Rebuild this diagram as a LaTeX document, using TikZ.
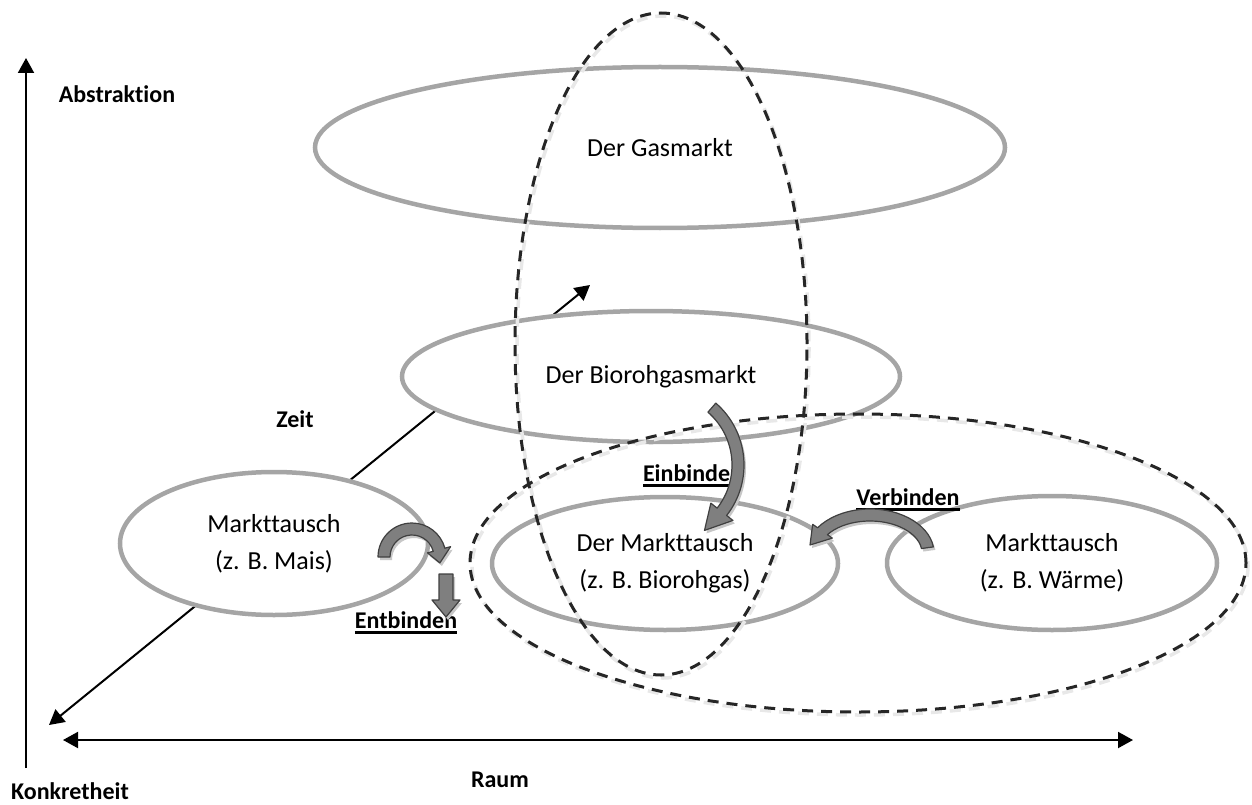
\documentclass[tikz,border=0pt]{standalone}
\usepackage{fontspec}
\setmainfont{Carlito}[Ligatures=NoCommon]
\usetikzlibrary{arrows.meta,shapes.geometric}
\definecolor{ellgray}{HTML}{A5A5A5}
\definecolor{dashcol}{HTML}{262626}
\definecolor{arrgray}{HTML}{7F7F7F}
\definecolor{arroutline}{HTML}{404040}
\newlength\ulw
\newcommand\myul[1]{\settowidth\ulw{#1}\rlap{\rule[-6pt]{\ulw}{3.2pt}}#1}
\tikzset{
  mkt/.style={ellipse, draw=ellgray, line width=4.5pt, fill=white, inner sep=0pt,
    align=center, font=\fontsize{26}{37}\selectfont},
  grp/.style={ellipse, draw=dashcol, line width=3pt, dash pattern=on 11pt off 8pt, inner sep=0pt},
  grpshadow/.style={draw=black!9, line width=3.5pt, dash pattern=on 11pt off 8pt},
  axisline/.style={line width=2pt, draw=black, >={Triangle[length=15pt,width=16pt]}},
  lbl/.style={font=\fontsize{24}{28}\selectfont\bfseries, inner sep=0pt, anchor=base},
  barrow/.style={fill=arrgray, draw=arroutline, line width=1.2pt, line join=round},
  bshadow/.style={fill=black!22}
}
\begin{document}
\begin{tikzpicture}[x=1pt,y=-1pt]
\useasboundingbox (0,0) rectangle (1252,805);
% axes
\coordinate (vtop) at (26,58);
\coordinate (vbot) at (26,768);
\coordinate (hleft) at (63,740);
\coordinate (hright) at (1133,740);
\coordinate (dlow) at (49,725);
\coordinate (dhigh) at (590,285);
\draw[axisline, ->] (vbot) -- (vtop);
\draw[axisline, <->] (hleft) -- (hright);
\draw[axisline, <->] (dhigh) -- (dlow);
% market ellipses
\node[mkt, minimum width=690pt, minimum height=161pt] (gas) at (660,147.5) {Der Gasmarkt};
\node[mkt, minimum width=498pt, minimum height=131pt] (biomkt) at (651,376.5) {Der Biorohgasmarkt};
\node[mkt, minimum width=308pt, minimum height=143pt] (mais) at (274,543.5) {Markttausch\\(z. B. Mais)};
\node[mkt, minimum width=346pt, minimum height=133pt] (bio) at (665,563.5) {Der Markttausch\\(z. B. Biorohgas)};
\node[mkt, minimum width=330pt, minimum height=134pt] (waerme) at (1052,563) {Markttausch\\(z. B. Wärme)};
% dashed groups
\draw[grpshadow] (663,347) ellipse[x radius=146, y radius=331];
\draw[grpshadow] (860,566) ellipse[x radius=388, y radius=149];
\node[grp, minimum width=292pt, minimum height=662pt] (vgroup) at (661,344) {};
\node[grp, minimum width=776pt, minimum height=298pt] (hgroup) at (858,563) {};
% labels
\node[lbl] (abs) at (117,103) {Abstraktion};
\node[lbl] (konk) at (70,799) {Konkretheit};
\node[lbl] (raum) at (500,787) {Raum};
\node[lbl] (zeit) at (295,427) {Zeit};
\node[lbl] (einb) at (693,481) {\myul{Einbinden}};
\node[lbl] (verb) at (908,505) {\myul{Verbinden}};
\node[lbl] (entb) at (406,628) {\myul{Entbinden}};
% block arrows
\begin{scope}[shift={(414,560)}]
\path[bshadow] (180:34) arc[start angle=180, end angle=345, radius=34] -- (345:40) -- (12:28.5) -- (345:16) -- (345:22) arc[start angle=345, end angle=180, radius=22] -- cycle;
\end{scope}
\begin{scope}[shift={(412,557)}]
\path[barrow] (180:34) arc[start angle=180, end angle=345, radius=34] -- (345:40) -- (12:28.5) -- (345:16) -- (345:22) arc[start angle=345, end angle=180, radius=22] -- cycle;
\end{scope}
\path[bshadow] (441,577) -- (455,577) -- (455,603) -- (462,603) -- (448,620) -- (434,603) -- (441,603) -- cycle;
\path[barrow] (439,574) -- (453,574) -- (453,600) -- (460,600) -- (446,617) -- (432,600) -- (439,600) -- cycle;
\begin{scope}[shift={(664,468)}]
\path[bshadow] (311:82) arc[start angle=311, end angle=398, radius=82] -- (38:90) -- (57:78) -- (38:62) -- (38:70) arc[start angle=398, end angle=311, radius=70] -- cycle;
\end{scope}
\begin{scope}[shift={(662,465)}]
\path[barrow] (311:82) arc[start angle=311, end angle=398, radius=82] -- (38:90) -- (57:78) -- (38:62) -- (38:70) arc[start angle=398, end angle=311, radius=70] -- cycle;
\end{scope}
\begin{scope}[shift={(872,556)}]
\path[bshadow] (352:64 and 44) arc[start angle=352, end angle=215, x radius=64, y radius=44] -- (215:70 and 50) -- (-60,-8) -- (215:46 and 26) -- (215:52 and 32) arc[start angle=215, end angle=352, x radius=52, y radius=32] -- cycle;
\end{scope}
\begin{scope}[shift={(870,553)}]
\path[barrow] (352:64 and 44) arc[start angle=352, end angle=215, x radius=64, y radius=44] -- (215:70 and 50) -- (-60,-8) -- (215:46 and 26) -- (215:52 and 32) arc[start angle=215, end angle=352, x radius=52, y radius=32] -- cycle;
\end{scope}
\end{tikzpicture}
\end{document}
